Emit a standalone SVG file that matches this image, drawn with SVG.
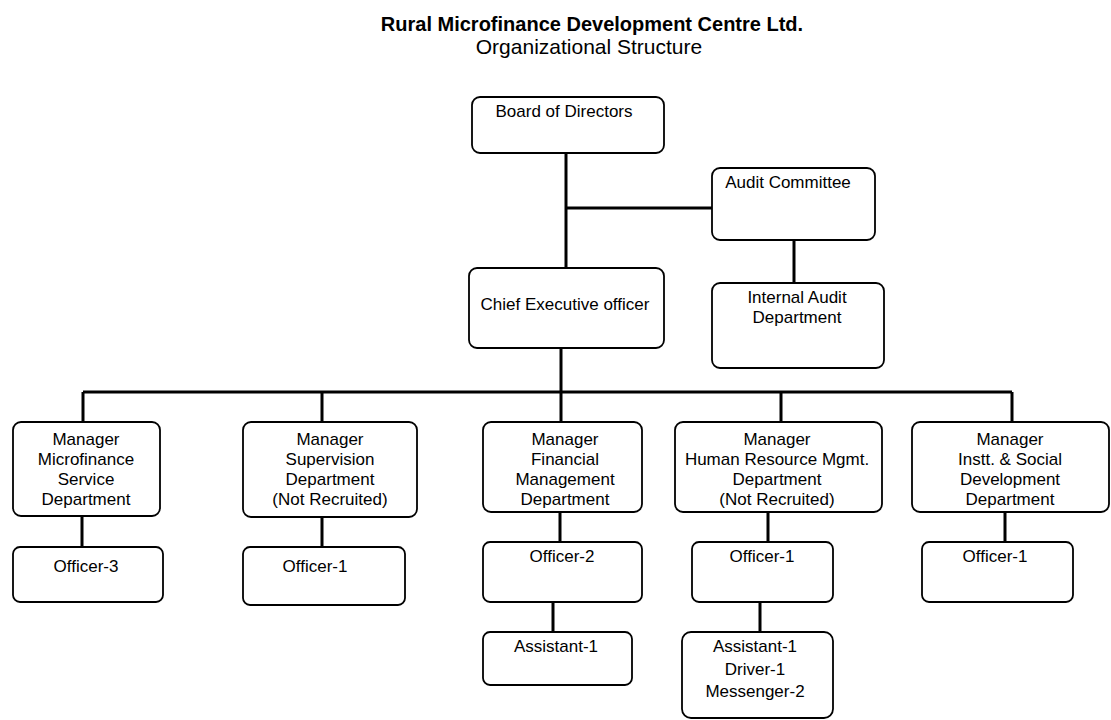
<svg xmlns="http://www.w3.org/2000/svg" width="1111" height="720" viewBox="0 0 1111 720">
<style>
.box{fill:#fff;stroke:#000;stroke-width:1.8}
.t{font-family:"Liberation Sans",Arial,sans-serif;font-size:17px;fill:#000;text-anchor:middle}
.title{font-family:"Liberation Sans",Arial,sans-serif;fill:#000;text-anchor:middle}
.c{stroke:#000;stroke-width:3;fill:none}
</style>
<rect width="1111" height="720" fill="#fff"/>
<g id="title">
<text class="title" x="592" y="31" font-size="20" font-weight="bold">Rural Microfinance Development Centre Ltd.</text>
<text class="title" x="589" y="54" font-size="21">Organizational Structure</text>
</g>
<g id="connectors">
<path class="c" d="M566 153V268"/>
<path class="c" d="M566 208H712"/>
<path class="c" d="M794 240V283"/>
<path class="c" d="M561 348V392"/>
<path class="c" d="M83 392H1012"/>
<path class="c" d="M83 392V422M322 392V422M561 392V422M781 392V422M1012 392V422"/>
<path class="c" d="M82 515V547M322 517V547M560 512V542M768 512V542M1005 512V542"/>
<path class="c" d="M553 602V632M760 602V632"/>
</g>
<g id="board"><rect class="box" x="472" y="97" width="192" height="56" rx="8"/><text class="t" x="564" y="117">Board of Directors</text></g>
<g id="audit"><rect class="box" x="712" y="168" width="163" height="72" rx="8"/><text class="t" x="788" y="188">Audit Committee</text></g>
<g id="ceo"><rect class="box" x="469" y="268" width="195" height="80" rx="8"/><text class="t" x="565" y="310">Chief Executive officer</text></g>
<g id="internal"><rect class="box" x="712" y="283" width="172" height="85" rx="8"/><text class="t" x="797" y="303">Internal Audit</text><text class="t" x="797" y="323">Department</text></g>
<g id="m1"><rect class="box" x="13" y="422" width="147" height="94" rx="8"/><text class="t" x="86" y="445">Manager</text><text class="t" x="86" y="465">Microfinance</text><text class="t" x="86" y="485">Service</text><text class="t" x="86" y="505">Department</text></g>
<g id="m2"><rect class="box" x="243" y="422" width="174" height="95" rx="8"/><text class="t" x="330" y="445">Manager</text><text class="t" x="330" y="465">Supervision</text><text class="t" x="330" y="485">Department</text><text class="t" x="330" y="505">(Not Recruited)</text></g>
<g id="m3"><rect class="box" x="483" y="422" width="159" height="90" rx="8"/><text class="t" x="565" y="445">Manager</text><text class="t" x="565" y="465">Financial</text><text class="t" x="565" y="485">Management</text><text class="t" x="565" y="505">Department</text></g>
<g id="m4"><rect class="box" x="675" y="422" width="207" height="90" rx="8"/><text class="t" x="777" y="445">Manager</text><text class="t" x="777" y="465">Human Resource Mgmt.</text><text class="t" x="777" y="485">Department</text><text class="t" x="777" y="505">(Not Recruited)</text></g>
<g id="m5"><rect class="box" x="912" y="422" width="197" height="90" rx="8"/><text class="t" x="1010" y="445">Manager</text><text class="t" x="1010" y="465">Instt. &amp; Social</text><text class="t" x="1010" y="485">Development</text><text class="t" x="1010" y="505">Department</text></g>
<g id="o1"><rect class="box" x="13" y="547" width="150" height="55" rx="7"/><text class="t" x="86" y="572">Officer-3</text></g>
<g id="o2"><rect class="box" x="243" y="547" width="162" height="58" rx="7"/><text class="t" x="315" y="572">Officer-1</text></g>
<g id="o3"><rect class="box" x="483" y="542" width="159" height="60" rx="7"/><text class="t" x="562" y="562">Officer-2</text></g>
<g id="o4"><rect class="box" x="692" y="542" width="141" height="60" rx="7"/><text class="t" x="762" y="562">Officer-1</text></g>
<g id="o5"><rect class="box" x="922" y="542" width="151" height="60" rx="7"/><text class="t" x="995" y="562">Officer-1</text></g>
<g id="a3"><rect class="box" x="483" y="632" width="149" height="53" rx="7"/><text class="t" x="556" y="652">Assistant-1</text></g>
<g id="a4"><rect class="box" x="682" y="632" width="151" height="86" rx="9"/><text class="t" x="755" y="652">Assistant-1</text><text class="t" x="755" y="675">Driver-1</text><text class="t" x="755" y="697">Messenger-2</text></g>
</svg>
